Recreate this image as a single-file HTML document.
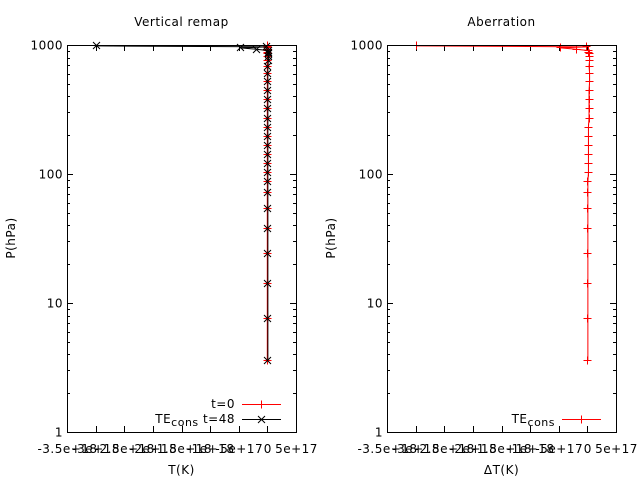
<!DOCTYPE html>
<html>
<head>
<meta charset="utf-8">
<style>
html,body{margin:0;padding:0;background:#fff;width:640px;height:480px;overflow:hidden}
svg{display:block}
text{font-family:"DejaVu Sans","Liberation Sans",sans-serif;font-size:12px;letter-spacing:0.5px;fill:#000}
</style>
</head>
<body>
<svg id="chart" width="640" height="480" viewBox="0 0 640 480" xmlns="http://www.w3.org/2000/svg"></svg>
<script>
const pressureLevels = [3.64,7.59,14.36,24.61,38.27,54.6,72.0,87.8,103.3,121.5,142.9,168.3,197.9,232.8,273.9,322.2,379.1,445.9,524.7,609.8,691.4,763.4,820.9,859.5,887.6,912.6,936.2,957.5,976.3,992.6];
const tempStart = [-0.01,-0.01,-0.01,-0.01,-0.01,-0.01,-0.01,-0.01,-0.01,-0.01,-0.01,-0.01,-0.01,-0.01,-0.01,-0.01,-0.01,-0.01,-0.01,-0.01,-0.01,-0.01,-0.01,-0.01,-0.01,-0.01,-0.01,-0.01,-0.01,-0.01];
const tempEnd = [0,0,0,0,0,0,0,0,0,0,0,0,0,0,0,0,0,0,0,0,0,0.01,0.01,0.01,0.01,0.01,-0.2,-0.48,-0.02,-3.0];
const aberration = [0,0,0,0,0,0,0,0,0.01,0.01,0.01,0.01,0.01,0.01,0.02,0.02,0.02,0.02,0.03,0.03,0.02,0.03,0.03,0.02,0.01,0.01,-0.2,-0.48,-0.02,-3.0];
const xTickValues = [-3.5,-3,-2.5,-2,-1.5,-1,-0.5,0,0.5];
const xTickLabels = ["-3.5e+18","-3e+18","-2.5e+18","-2e+18","-1.5e+18","-1e+18","-5e+17","0","5e+17"];
const yTickValues = [1,10,100,1000];
const yTickLabels = ["1","10","100","1000"];
const yMinorValues = [2,3,4,5,6,7,8,9];

const NS = "http://www.w3.org/2000/svg";
const svg = document.getElementById("chart");
const TOP = 45, BOTTOM = 432, WIDTH = 229;

function make(parent, tag, attrs, text) {
  const el = document.createElementNS(NS, tag);
  for (const k in attrs) el.setAttribute(k, attrs[k]);
  if (text !== undefined) el.textContent = text;
  parent.appendChild(el);
  return el;
}
function yScale(p) { return BOTTOM + 0.5 - Math.log10(p) * (BOTTOM - TOP) / 3; }
function snap(v) { return Math.floor(v) + 0.5; }

function drawMarker(g, kind, x, y, color) {
  const s = kind === "plus" ? 4 : 3.5;
  const d = kind === "plus"
    ? `M${x-s} ${y}H${x+s}M${x} ${y-s}V${y+s}`
    : `M${x-s} ${y-s}L${x+s} ${y+s}M${x-s} ${y+s}L${x+s} ${y-s}`;
  make(g, "path", {d: d, stroke: color, "stroke-width": 1, fill: "none"});
}

function drawSeries(panel, xScale, values, color, kind, name) {
  const g = make(panel, "g", {});
  
  
  const pts = values.map((v, i) => [xScale(v), yScale(pressureLevels[i])]);
  make(g, "polyline", {points: pts.map(p => p.join(",")).join(" "), fill: "none", stroke: color, "stroke-width": 1});
  pts.forEach(p => drawMarker(g, kind, snap(p[0]), snap(p[1]), color));
}

function drawPanel(left, title, xlabel, seriesList, legendList, panelName) {
  const right = left + WIDTH;
  const xScale = v => left + 0.5 + (v + 3.5) * WIDTH / 4;
  const panel = make(svg, "g", {});
  
  

  const ticks = make(panel, "g", {stroke: "#000", "stroke-width": 1});
  
  
  xTickValues.forEach(v => {
    const x = snap(xScale(v));
    make(ticks, "path", {d: `M${x} ${BOTTOM}v-6M${x} ${TOP}v6`});
  });
  yTickValues.forEach((v, i) => {
    const y = snap(yScale(v));
    make(ticks, "path", {d: `M${left} ${y}h6M${right} ${y}h-6`});
    if (i < yTickValues.length - 1) {
      yMinorValues.forEach(m => {
        const ym = snap(yScale(v * m));
        make(ticks, "path", {d: `M${left} ${ym}h3M${right} ${ym}h-3`});
      });
    }
  });

  seriesList.forEach(s => drawSeries(panel, xScale, s.values, s.color, s.kind, s.name));

  const frame = make(panel, "rect", {x: left + 0.5, y: TOP + 0.5, width: WIDTH, height: BOTTOM - TOP, fill: "none", stroke: "#000", "stroke-width": 1});
  
  

  xTickValues.forEach((v, i) => {
    const t = make(panel, "text", {x: xScale(v), y: 453, "text-anchor": "middle"}, xTickLabels[i]);
    
    
  });
  yTickValues.forEach((v, i) => {
    const t = make(panel, "text", {x: left - 4, y: yScale(v) + 4, "text-anchor": "end"}, yTickLabels[i]);
    
    
  });

  const ttl = make(panel, "text", {x: left + WIDTH / 2, y: 26, "text-anchor": "middle"}, title);
  
  
  const xl = make(panel, "text", {x: left + WIDTH / 2, y: 474, "text-anchor": "middle"}, xlabel);
  
  
  const yl = make(panel, "text", {x: left - 52, y: 238, "text-anchor": "middle", transform: `rotate(-90 ${left - 52} 238)`}, "P(hPa)");
  
  

  legendList.forEach(l => {
    const g = make(panel, "g", {});
    
    
    const tx = make(g, "text", {x: left + 168, y: l.y + 4, "text-anchor": "end"});
    l.parts.forEach(p => {
      const s = make(tx, "tspan", p.sub ? {dy: 3} : (p.back ? {dy: -3} : {}), p.text);
      if (p.sub) s.style.fontSize = "11px";
    });
    make(g, "path", {d: `M${left + 175} ${l.y + 0.5}h39`, stroke: l.color, "stroke-width": 1});
    drawMarker(g, l.kind, left + 194.5, l.y + 0.5, l.color);
  });
}

drawPanel(67, "Vertical remap", "T(K)",
  [
    {values: tempStart, color: "#ff0000", kind: "plus", name: "series-t0"},
    {values: tempEnd, color: "#000000", kind: "cross", name: "series-tecons-t48"}
  ],
  [
    {y: 404, color: "#ff0000", kind: "plus", parts: [{text: "t=0"}]},
    {y: 419, color: "#000000", kind: "cross", parts: [{text: "TE"}, {text: "cons", sub: true}, {text: " t=48", back: true}]}
  ],
  "left-panel");

drawPanel(387, "Aberration", "\u0394T(K)",
  [{values: aberration, color: "#ff0000", kind: "plus", name: "series-tecons-aberration"}],
  [{y: 419, color: "#ff0000", kind: "plus", parts: [{text: "TE"}, {text: "cons", sub: true}]}],
  "right-panel");
</script>
</body>
</html>
